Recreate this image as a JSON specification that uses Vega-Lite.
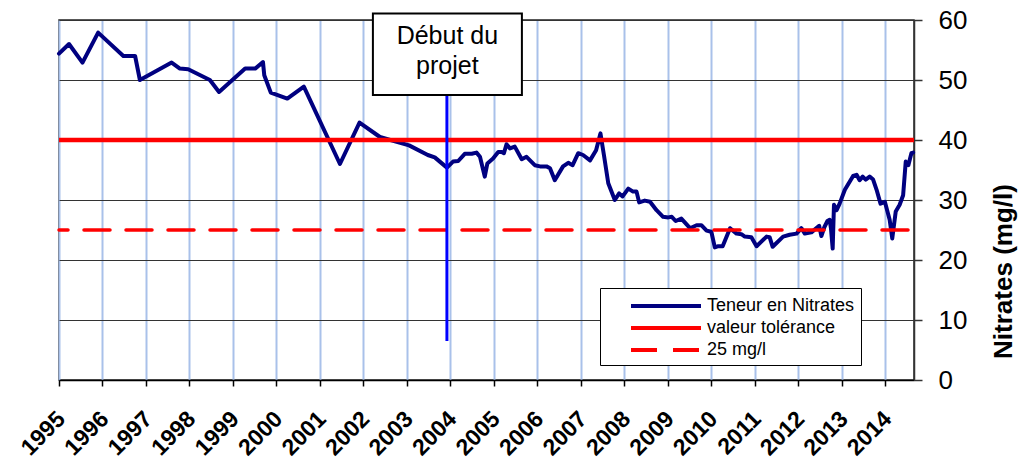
{
  "$schema": "https://vega.github.io/schema/vega-lite/v6.json",
  "width": 855,
  "height": 360,
  "autosize": "none",
  "padding": {"left": 59, "top": 20, "right": 114, "bottom": 79},
  "background": "#ffffff",
  "config": {
    "font": "Liberation Sans",
    "view": {"stroke": "#222", "strokeWidth": 1.5},
    "legend": {
      "orient": "none",
      "legendX": 541,
      "legendY": 268,
      "title": null,
      "symbolType": "M-3.5,0L3.5,0",
      "symbolSize": 400,
      "symbolStrokeWidth": 4,
      "symbolOffset": 48,
      "labelOffset": 29,
      "labelFontSize": 18,
      "labelColor": "#000",
      "padding": 6,
      "rowPadding": 1,
      "strokeColor": "#000",
      "fillColor": "#fff"
    }
  },
  "data": {
    "values": [
      {"t": 1995.00, "v": 54.4}, {"t": 1995.23, "v": 56.0}, {"t": 1995.54, "v": 52.9}, {"t": 1995.90, "v": 57.9},
      {"t": 1996.48, "v": 54.0}, {"t": 1996.75, "v": 54.0}, {"t": 1996.86, "v": 50.0}, {"t": 1997.59, "v": 52.9},
      {"t": 1997.78, "v": 51.9}, {"t": 1997.97, "v": 51.8}, {"t": 1998.47, "v": 50.0}, {"t": 1998.68, "v": 48.0},
      {"t": 1999.28, "v": 51.9}, {"t": 1999.51, "v": 51.9}, {"t": 1999.69, "v": 53.0}, {"t": 1999.72, "v": 50.8},
      {"t": 1999.87, "v": 47.9}, {"t": 2000.25, "v": 46.9}, {"t": 2000.63, "v": 48.9}, {"t": 2001.46, "v": 36.0},
      {"t": 2001.91, "v": 42.9}, {"t": 2002.38, "v": 40.5}, {"t": 2003.05, "v": 39.1}, {"t": 2003.48, "v": 37.5},
      {"t": 2003.64, "v": 37.1}, {"t": 2003.92, "v": 35.4}, {"t": 2004.06, "v": 36.4}, {"t": 2004.18, "v": 36.5},
      {"t": 2004.33, "v": 37.7}, {"t": 2004.49, "v": 37.7}, {"t": 2004.60, "v": 37.9}, {"t": 2004.68, "v": 37.2},
      {"t": 2004.79, "v": 33.9}, {"t": 2004.85, "v": 36.1}, {"t": 2004.98, "v": 36.9}, {"t": 2005.10, "v": 38.0},
      {"t": 2005.18, "v": 38.0}, {"t": 2005.23, "v": 37.8}, {"t": 2005.29, "v": 39.3}, {"t": 2005.37, "v": 38.6},
      {"t": 2005.48, "v": 38.9}, {"t": 2005.64, "v": 36.8}, {"t": 2005.75, "v": 37.2}, {"t": 2005.94, "v": 35.8},
      {"t": 2006.06, "v": 35.6}, {"t": 2006.21, "v": 35.6}, {"t": 2006.29, "v": 35.3}, {"t": 2006.40, "v": 33.3},
      {"t": 2006.59, "v": 35.6}, {"t": 2006.71, "v": 36.2}, {"t": 2006.81, "v": 35.8}, {"t": 2006.94, "v": 37.8},
      {"t": 2007.05, "v": 37.5}, {"t": 2007.21, "v": 36.6}, {"t": 2007.35, "v": 38.3}, {"t": 2007.45, "v": 41.1},
      {"t": 2007.53, "v": 37.5}, {"t": 2007.63, "v": 32.8}, {"t": 2007.78, "v": 30.0}, {"t": 2007.88, "v": 31.1},
      {"t": 2007.96, "v": 30.6}, {"t": 2008.09, "v": 31.9}, {"t": 2008.20, "v": 31.4}, {"t": 2008.28, "v": 31.4},
      {"t": 2008.34, "v": 29.6}, {"t": 2008.47, "v": 29.9}, {"t": 2008.59, "v": 29.7}, {"t": 2008.74, "v": 28.3},
      {"t": 2008.89, "v": 27.2}, {"t": 2009.01, "v": 27.1}, {"t": 2009.09, "v": 27.2}, {"t": 2009.18, "v": 26.5},
      {"t": 2009.31, "v": 26.9}, {"t": 2009.51, "v": 25.3}, {"t": 2009.66, "v": 25.8}, {"t": 2009.77, "v": 25.8},
      {"t": 2009.89, "v": 24.9}, {"t": 2010.00, "v": 24.7}, {"t": 2010.08, "v": 22.1}, {"t": 2010.16, "v": 22.3},
      {"t": 2010.26, "v": 22.3}, {"t": 2010.43, "v": 25.3}, {"t": 2010.58, "v": 24.4}, {"t": 2010.69, "v": 24.3},
      {"t": 2010.77, "v": 23.9}, {"t": 2010.92, "v": 23.8}, {"t": 2011.04, "v": 22.3}, {"t": 2011.27, "v": 23.9},
      {"t": 2011.34, "v": 23.8}, {"t": 2011.41, "v": 22.2}, {"t": 2011.65, "v": 23.9}, {"t": 2011.80, "v": 24.2},
      {"t": 2011.96, "v": 24.4}, {"t": 2012.07, "v": 25.3}, {"t": 2012.15, "v": 24.4}, {"t": 2012.30, "v": 24.6},
      {"t": 2012.48, "v": 25.7}, {"t": 2012.53, "v": 24.0}, {"t": 2012.60, "v": 25.5}, {"t": 2012.67, "v": 26.5},
      {"t": 2012.72, "v": 26.7}, {"t": 2012.75, "v": 25.3}, {"t": 2012.79, "v": 21.9}, {"t": 2012.82, "v": 29.2},
      {"t": 2012.88, "v": 28.3}, {"t": 2012.95, "v": 29.4}, {"t": 2013.07, "v": 31.7}, {"t": 2013.26, "v": 34.0},
      {"t": 2013.34, "v": 34.2}, {"t": 2013.41, "v": 33.3}, {"t": 2013.48, "v": 33.9}, {"t": 2013.55, "v": 33.4},
      {"t": 2013.64, "v": 33.9}, {"t": 2013.72, "v": 33.4}, {"t": 2013.80, "v": 31.7}, {"t": 2013.89, "v": 29.4},
      {"t": 2013.99, "v": 29.7}, {"t": 2014.10, "v": 26.7}, {"t": 2014.16, "v": 23.6}, {"t": 2014.24, "v": 28.1},
      {"t": 2014.33, "v": 29.2}, {"t": 2014.41, "v": 30.8}, {"t": 2014.47, "v": 36.4}, {"t": 2014.53, "v": 35.8},
      {"t": 2014.60, "v": 37.8}, {"t": 2014.64, "v": 37.9}
    ]
  },
  "layer": [
    {
      "mark": {"type": "line", "strokeWidth": 4, "strokeJoin": "round", "strokeCap": "round"},
      "encoding": {
        "x": {
          "field": "t", "type": "quantitative",
          "scale": {"domain": [1995, 2014.66], "nice": false, "zero": false},
          "axis": {
            "values": [1995, 1996, 1997, 1998, 1999, 2000, 2001, 2002, 2003, 2004, 2005, 2006, 2007, 2008, 2009, 2010, 2011, 2012, 2013, 2014],
            "format": "d",
            "title": null,
            "labelAngle": -45,
            "labelAlign": "right",
            "labelBaseline": "middle",
            "labelFontSize": 23,
            "labelFontWeight": "bold",
            "labelColor": "#000",
            "labelPadding": 29,
            "labelOffset": 2,
            "labelOverlap": false,
            "labelFlush": false,
            "labelBound": false,
            "tickSize": 6,
            "tickColor": "#000",
            "tickWidth": 1.5,
            "domainColor": "#000",
            "domainWidth": 1.5,
            "grid": true,
            "gridColor": "#a9c1ea",
            "gridWidth": 2
          }
        },
        "y": {
          "field": "v", "type": "quantitative",
          "scale": {"domain": [0, 60], "nice": false},
          "axis": {
            "orient": "right",
            "values": [0, 10, 20, 30, 40, 50, 60],
            "labelFontSize": 26,
            "labelColor": "#000",
            "labelPadding": 16,
            "labelBaseline": "middle",
            "tickSize": 8,
            "tickColor": "#333",
            "tickWidth": 1.5,
            "domainColor": "#333",
            "domainWidth": 1.5,
            "grid": true,
            "gridColor": "#333",
            "gridWidth": 1.2,
            "title": "Nitrates (mg/l)",
            "titleFontSize": 26,
            "titleFontWeight": "bold",
            "titleColor": "#000",
            "titleAngle": 270,
            "titleX": 89,
            "titleY": 251,
            "titleAlign": "center",
            "titleBaseline": "middle"
          }
        },
        "color": {
          "datum": "Teneur en Nitrates", "type": "nominal",
          "scale": {"domain": ["Teneur en Nitrates", "valeur tolérance", "25 mg/l"], "range": ["#000080", "#ff0000", "#ff0000"]}
        }
      }
    },
    {
      "data": {"values": [{}]},
      "mark": {"type": "rule", "strokeWidth": 4.5},
      "encoding": {
        "y": {"datum": 40, "type": "quantitative"},
        "color": {"datum": "valeur tolérance", "type": "nominal"}
      }
    },
    {
      "data": {"values": [{}]},
      "mark": {"type": "rule", "strokeWidth": 3.5, "strokeCap": "round", "strokeDashOffset": 36},
      "encoding": {
        "y": {"datum": 25, "type": "quantitative"},
        "color": {"datum": "25 mg/l", "type": "nominal"},
        "strokeDash": {
          "datum": "25 mg/l", "type": "nominal",
          "scale": {"domain": ["Teneur en Nitrates", "valeur tolérance", "25 mg/l"], "range": [[1, 0], [1, 0], [26, 16]]}
        }
      }
    },
    {
      "data": {"values": [{}]},
      "mark": {"type": "rule", "strokeWidth": 3, "color": "#0000ff"},
      "encoding": {
        "x": {"datum": 2003.92, "type": "quantitative"},
        "y": {"datum": 6.5, "type": "quantitative"},
        "y2": {"datum": 47.5}
      }
    },
    {
      "data": {"values": [{}]},
      "mark": {"type": "rect", "fill": "#444", "xOffset": 3, "yOffset": 3},
      "encoding": {
        "x": {"datum": 2002.218, "type": "quantitative"},
        "x2": {"datum": 2005.644},
        "y": {"datum": 61.1, "type": "quantitative"},
        "y2": {"datum": 47.5}
      }
    },
    {
      "data": {"values": [{}]},
      "mark": {"type": "rect", "fill": "#ffffff", "stroke": "#000", "strokeWidth": 2},
      "encoding": {
        "x": {"datum": 2002.218, "type": "quantitative"},
        "x2": {"datum": 2005.644},
        "y": {"datum": 61.1, "type": "quantitative"},
        "y2": {"datum": 47.5}
      }
    },
    {
      "data": {"values": [{}]},
      "mark": {"type": "text", "text": ["Début du", "projet"], "fontSize": 25, "align": "center", "baseline": "alphabetic", "lineHeight": 30, "color": "#000"},
      "encoding": {
        "x": {"datum": 2003.93, "type": "quantitative"},
        "y": {"datum": 56.0, "type": "quantitative"}
      }
    }
  ]
}
